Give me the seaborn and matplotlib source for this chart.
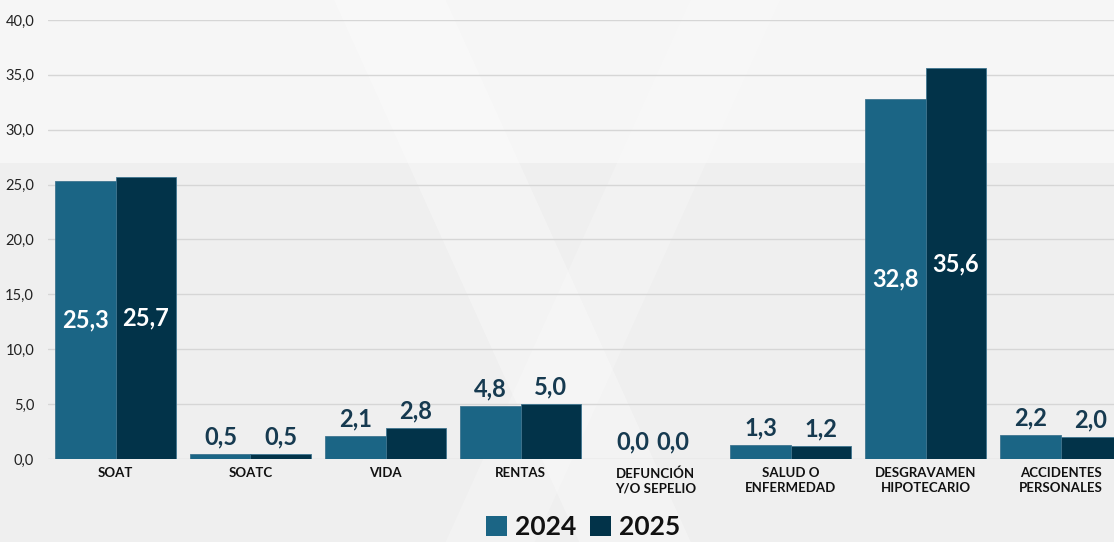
import matplotlib
matplotlib.use("Agg")
import matplotlib.pyplot as plt
import seaborn as sns
import pandas as pd
from matplotlib.patches import Polygon, Patch

categories = ["SOAT", "SOATC", "VIDA", "RENTAS", "DEFUNCIÓN\nY/O SEPELIO",
              "SALUD O\nENFERMEDAD", "DESGRAVAMEN\nHIPOTECARIO", "ACCIDENTES\nPERSONALES"]
values_2024 = [25.3, 0.5, 2.1, 4.8, 0.0, 1.3, 32.8, 2.2]
values_2025 = [25.7, 0.5, 2.8, 5.0, 0.0, 1.2, 35.6, 2.0]
years = ["2024", "2025"]
yticks = [0, 5, 10, 15, 20, 25, 30, 35, 40]

df = pd.DataFrame({
    "cat": categories * 2,
    "year": [years[0]] * len(categories) + [years[1]] * len(categories),
    "val": values_2024 + values_2025,
})

sns.set_theme(style="white")
plt.rcParams["font.family"] = ["Lato", "DejaVu Sans"]

c24, c25 = "#1b6585", "#023349"
bg = "#efefef"

fig = plt.figure(figsize=(11.14, 5.42), dpi=100)
fig.patch.set_facecolor(bg)

# background decoration axes (behind everything)
bax = fig.add_axes([0, 0, 1, 1], zorder=-10)
bax.set_xlim(0, 1)
bax.set_ylim(0, 1)
bax.axis("off")
for pts, a in [([(0.0, 0.70), (1.0, 0.70), (1.0, 1.0), (0.0, 1.0)], 0.45),
               ([(0.30, 1.0), (0.40, 1.0), (0.62, 0.0), (0.52, 0.0)], 0.30),
               ([(0.62, 1.0), (0.70, 1.0), (0.48, 0.0), (0.40, 0.0)], 0.20)]:
    bax.add_patch(Polygon(pts, closed=True, facecolor="white", edgecolor="none", alpha=a))

ax = fig.add_axes([48 / 1114, 1 - 459 / 542, 1 - 48 / 1114, 439 / 542])
ax.set_facecolor("none")

sns.barplot(data=df, x="cat", y="val", hue="year", palette=[c24, c25],
            width=0.89, gap=0, ax=ax, legend=False, saturation=1,
            edgecolor="#3f7590", linewidth=0.6)

ax.set_ylim(0, 40)
ax.set_xlim(-0.5, -0.5 + (1114 - 48) / 135)
ax.set_yticks(yticks)
ax.set_yticklabels([f"{v:.1f}".replace(".", ",") for v in yticks], fontsize=10.5, color="#222222")
ax.yaxis.grid(True, color="#d6d6d6", linewidth=1)
ax.set_axisbelow(True)
for s in ax.spines.values():
    s.set_visible(False)
ax.tick_params(axis="y", length=0, pad=10)
ax.tick_params(axis="x", length=0, pad=6)
for t in ax.get_xticklabels():
    t.set_fontsize(9.5)
    t.set_fontweight("bold")
    t.set_color("#111111")
    t.set_linespacing(1.3)
ax.set_xlabel("")
ax.set_ylabel("")

for ci, cont in enumerate(ax.containers):
    for bar in cont:
        h = bar.get_height()
        x = bar.get_x() + bar.get_width() / 2
        txt = f"{h:.1f}".replace(".", ",")
        if h > 20:
            ax.text(x, h / 2, txt, ha="center", va="center", color="white",
                    fontsize=17, fontweight="bold")
        else:
            dx = 0
            if h == 0:
                dx = 5 if ci == 0 else -9
            ax.annotate(txt, (x, h), xytext=(dx, 4), textcoords="offset points",
                        ha="center", va="bottom", color="#163a50",
                        fontsize=17, fontweight="bold")

handles = [Patch(facecolor=c24, edgecolor="none"), Patch(facecolor=c25, edgecolor="none")]
fig.legend(handles, years, loc="center", bbox_to_anchor=(583 / 1114, 1 - 527 / 542),
           ncol=2, frameon=False, prop={"size": 19, "weight": "bold"},
           handlelength=0.8, handleheight=0.8, handletextpad=0.3, columnspacing=0.5,
           labelcolor="#111111")

fig.savefig("out.png", dpi=100, facecolor=bg)
